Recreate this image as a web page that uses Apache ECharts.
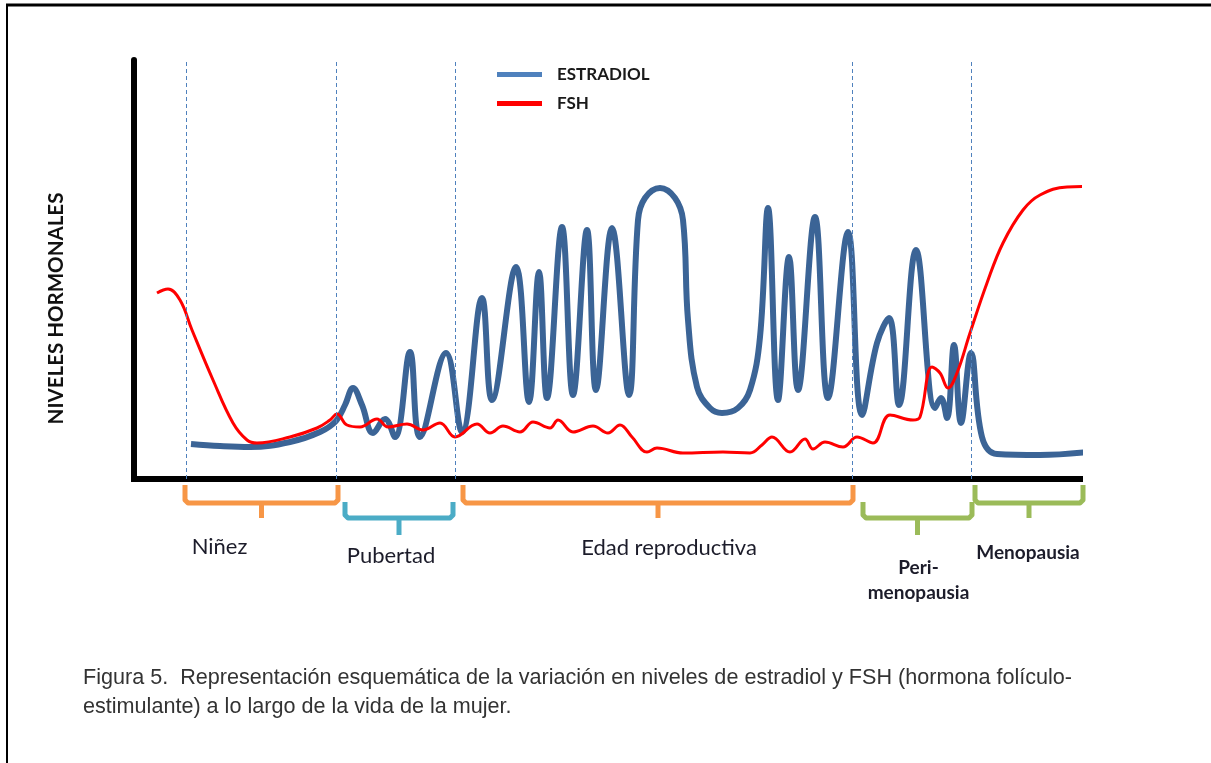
<!DOCTYPE html>
<html>
<head>
<meta charset="utf-8">
<title>Estradiol y FSH</title>
<script src="https://cdn.jsdelivr.net/npm/echarts@6/dist/echarts.min.js"></script>
<style>
  html, body { margin: 0; padding: 0; background: #fff; }
  #main { width: 1211px; height: 763px; }
</style>
</head>
<body>
<div id="main"></div>
<script>
// x = tiempo (unidades esquemáticas), y = nivel hormonal (unidades esquemáticas)
let estradiolX = [57, 86, 116, 156, 186, 202, 211, 219, 228, 239, 251, 261, 276, 286, 312, 328, 348, 358, 382, 395,
  405, 413, 428, 439, 453, 462, 478, 495, 504, 511, 526, 541, 549, 554, 563, 576, 588, 604, 616, 626,
  634, 644, 655, 664, 681, 694, 714, 728, 743, 755, 765, 782, 801, 807, 813, 820, 827, 837, 848, 863, 906, 954]
let estradiolY = [35, 33, 32, 37, 47, 58, 74, 91, 74, 46, 60, 42, 127, 42, 126, 47, 181, 79, 212, 77,
  207, 81, 252, 84, 249, 89, 251, 84, 259, 281, 291, 281, 259, 159, 92, 71, 66, 71, 89, 142,
  271, 79, 222, 89, 262, 81, 247, 64, 136, 161, 74, 229, 71, 81, 61, 134, 56, 126, 42, 25, 24, 27]

let fshX = [23, 34, 46, 58, 79, 99, 113, 123, 156, 183, 196, 203, 213, 226, 243, 254, 273, 289, 306, 321,
  343, 356, 369, 386, 399, 416, 424, 439, 459, 474, 486, 498, 513, 523, 549, 589, 616, 628, 638, 656,
  671, 679, 691, 709, 723, 739, 756, 779, 786, 798, 806, 814, 823, 836, 853, 869, 889, 906, 933, 984]
let fshY = [186, 190, 179, 149, 99, 56, 39, 36, 42, 51, 59, 65, 54, 52, 60, 52, 55, 49, 56, 42,
  55, 46, 53, 47, 57, 51, 59, 47, 53, 46, 54, 42, 27, 31, 26, 27, 26, 34, 42, 27,
  40, 30, 37, 32, 42, 36, 64, 59, 62, 112, 106, 91, 106, 146, 196, 236, 269, 284, 292, 293]

// etapas de la vida
let phaseNames = ['Niñez', 'Pubertad', 'Edad reproductiva', 'Peri-\nmenopausia', 'Menopausia']
let phaseStart = [51, 211, 329, 729, 841]
let phaseEnd = [204, 319, 719, 838, 949]
let phaseRow = [0, 1, 0, 1, 0]
let boundaries = [52, 202, 321, 718, 837]

// estilos de las etapas
let phaseColors = ['#F79646', '#4BACC6', '#F79646', '#9BBB59', '#9BBB59']
let phaseLabelShift = [[-42, 68], [-8, 77], [11, 69], [1, 101], [-1, 74]]
let phaseFonts = [
  { size: 22, weight: 'normal' },
  { size: 22, weight: 'normal' },
  { size: 22, weight: 'normal' },
  { size: 19, weight: 'bold' },
  { size: 19, weight: 'bold' }
]

function zip(xs, ys) {
  return xs.map(function (x, i) { return [x, ys[i]] })
}

let chart = echarts.init(document.getElementById('main'))
let option = {
  backgroundColor: '#fff',
  animation: false,
  title: {
    text: 'Figura 5.  Representación esquemática de la variación en niveles de estradiol y FSH (hormona folículo-\nestimulante) a lo largo de la vida de la mujer.',
    left: 78,
    top: 659,
    textStyle: {
      fontFamily: 'Liberation Sans',
      fontSize: 21.6,
      fontWeight: 'normal',
      lineHeight: 29,
      color: '#333'
    }
  },
  legend: {
    orient: 'vertical',
    left: 492,
    top: 61,
    icon: 'rect',
    itemWidth: 45,
    itemHeight: 5,
    itemGap: 12,
    textStyle: {
      fontFamily: 'Lato',
      fontSize: 17,
      fontWeight: 'bold',
      lineHeight: 16,
      color: '#1a1a1a',
      padding: [0, 0, 0, 10]
    },
    data: [
      { name: 'ESTRADIOL', itemStyle: { color: '#4F81BD' } },
      { name: 'FSH', itemStyle: { color: '#FF0000' } }
    ]
  },
  grid: { left: 134, right: 131, top: 60, bottom: 284 },
  xAxis: {
    type: 'value',
    min: 0,
    max: 946,
    axisLine: { show: true, lineStyle: { color: '#000', width: 6, cap: 'square' } },
    axisTick: { show: false },
    axisLabel: { show: false },
    splitLine: { show: false }
  },
  yAxis: {
    type: 'value',
    min: 0,
    max: 419,
    name: 'NIVELES HORMONALES',
    nameLocation: 'middle',
    nameGap: 67,
    nameRotate: 90,
    nameTextStyle: { fontFamily: 'Lato', fontSize: 20.5, fontWeight: 'bold', color: '#111', padding: [0, 78, 0, 0] },
    axisLine: { show: true, lineStyle: { color: '#000', width: 6 } },
    axisTick: { show: false },
    axisLabel: { show: false },
    splitLine: { show: false }
  },
  series: [
    {
      name: 'ESTRADIOL',
      type: 'line',
      data: zip(estradiolX, estradiolY),
      smooth: 0.4,
      symbol: 'none',
      clip: false,
      itemStyle: { color: '#4F81BD' },
      lineStyle: { color: '#3B6496', width: 6 },
      markLine: {
        silent: true,
        symbol: 'none',
        label: { show: false },
        lineStyle: { color: '#4F81BD', type: [4, 3], width: 1 },
        data: boundaries.map(function (v) { return { xAxis: v } })
      }
    },
    {
      name: 'FSH',
      type: 'line',
      data: zip(fshX, fshY),
      smooth: 0.4,
      symbol: 'none',
      clip: false,
      itemStyle: { color: '#FF0000' },
      lineStyle: { color: '#FF0000', width: 3 }
    },
    {
      name: 'etapas',
      type: 'custom',
      silent: true,
      data: phaseNames.map(function (n, i) { return [phaseStart[i], phaseEnd[i], phaseRow[i]] }),
      renderItem: function (params, api) {
        let i = params.dataIndex
        let x1 = api.coord([api.value(0), 0])[0]
        let x2 = api.coord([api.value(1), 0])[0]
        let base = api.coord([0, 0])[1]
        let row = api.value(2)
        let top = base + (row ? 23 : 6)
        let bot = base + (row ? 39 : 24)
        let tip = bot + (row ? 17 : 15)
        let mid = (x1 + x2) / 2
        let col = phaseColors[i]
        let f = phaseFonts[i]
        return {
          type: 'group',
          children: [
            {
              type: 'polyline',
              shape: { points: [[x1, top], [x1, bot - 3], [x1 + 3, bot], [x2 - 3, bot], [x2, bot - 3], [x2, top]] },
              style: { stroke: col, lineWidth: 5, fill: null, lineJoin: 'round' }
            },
            {
              type: 'line',
              shape: { x1: mid, y1: bot, x2: mid, y2: tip },
              style: { stroke: col, lineWidth: 5 }
            },
            {
              type: 'text',
              style: {
                text: phaseNames[i],
                x: mid + phaseLabelShift[i][0],
                y: base + phaseLabelShift[i][1],
                align: 'center',
                verticalAlign: 'middle',
                fontFamily: 'Lato',
                fontSize: f.size,
                fontWeight: f.weight,
                lineHeight: 25,
                fill: '#1c1c2a'
              }
            }
          ]
        }
      }
    }
  ],
  graphic: [
    { type: 'line', shape: { x1: 6, y1: 5, x2: 1211, y2: 5 }, style: { stroke: '#000', lineWidth: 3 } },
    { type: 'line', shape: { x1: 7, y1: 4, x2: 7, y2: 763 }, style: { stroke: '#000', lineWidth: 2 } }
  ]
}
chart.setOption(option)
</script>
</body>
</html>
